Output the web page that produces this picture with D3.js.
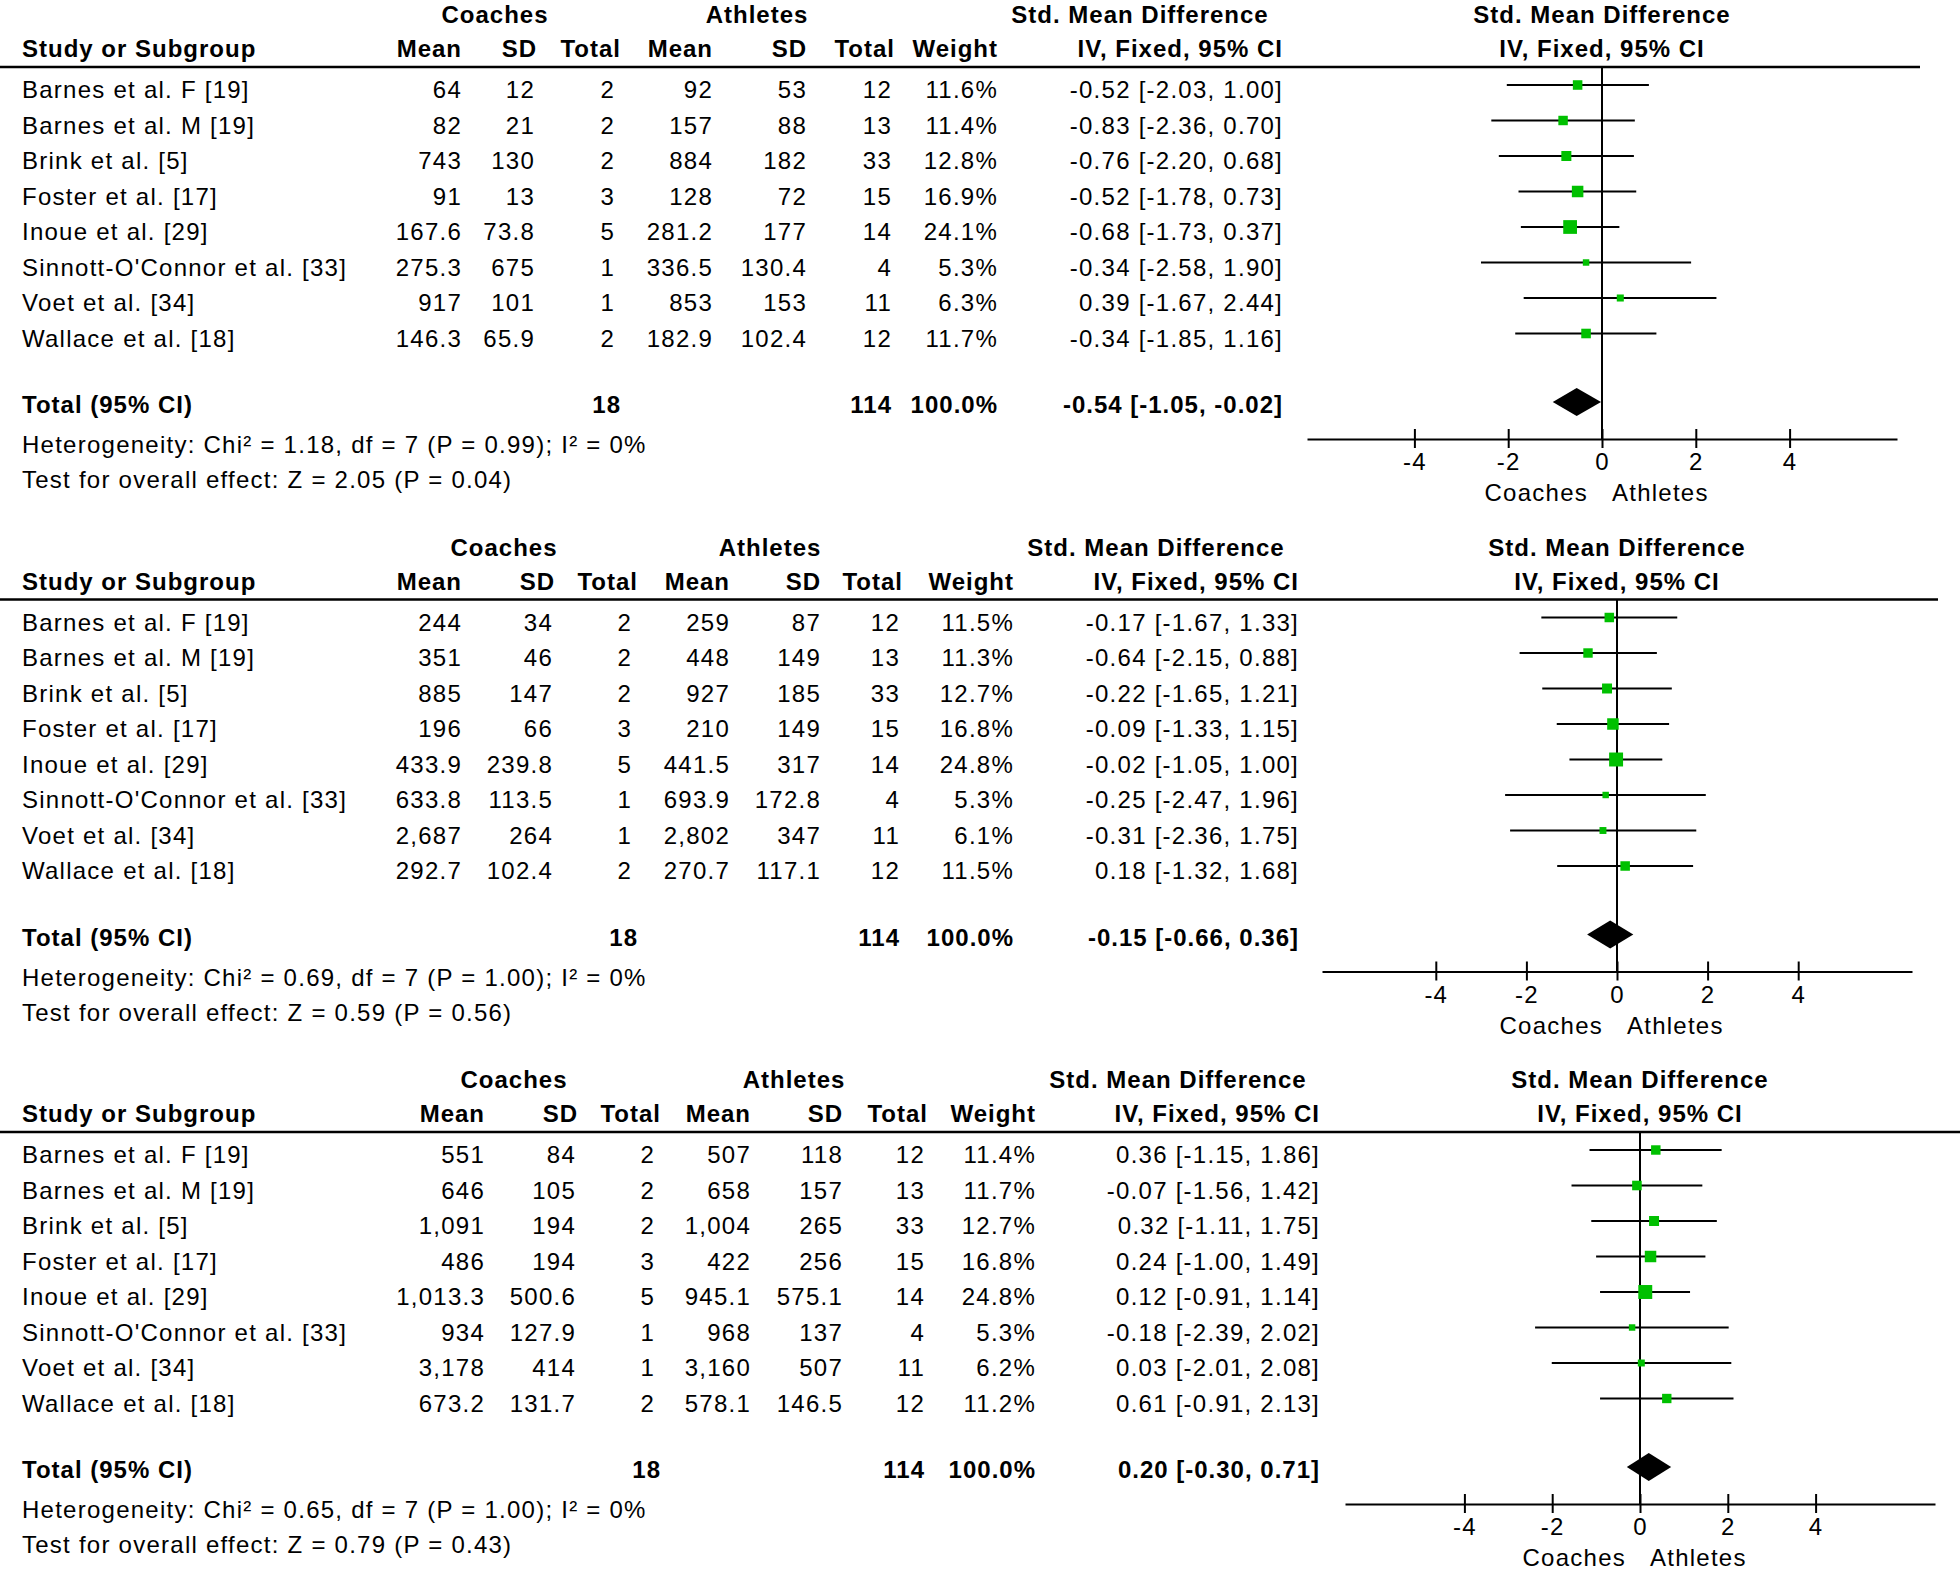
<!DOCTYPE html>
<html>
<head>
<meta charset="utf-8">
<script src="https://cdn.jsdelivr.net/npm/d3@7"></script>
<style>
  body { margin: 0; background: #fff; }
  svg { display: block; }
  text { font-family: "Liberation Sans", Arial, sans-serif; font-size: 24px; letter-spacing: 1.25px; fill: #000; }
  .b { font-weight: bold; letter-spacing: 1px; }
</style>
</head>
<body>
<script>
const studies = ["Barnes et al. F [19]", "Barnes et al. M [19]", "Brink et al. [5]", "Foster et al. [17]",
                 "Inoue et al. [29]", "Sinnott-O'Connor et al. [33]", "Voet et al. [34]", "Wallace et al. [18]"];
const coachN = [2, 2, 2, 3, 5, 1, 1, 2];
const athleteN = [12, 13, 33, 15, 14, 4, 11, 12];

// panel 1
const coachMean1 = ["64", "82", "743", "91", "167.6", "275.3", "917", "146.3"];
const coachSD1 = ["12", "21", "130", "13", "73.8", "675", "101", "65.9"];
const athMean1 = ["92", "157", "884", "128", "281.2", "336.5", "853", "182.9"];
const athSD1 = ["53", "88", "182", "72", "177", "130.4", "153", "102.4"];
const weight1 = [11.6, 11.4, 12.8, 16.9, 24.1, 5.3, 6.3, 11.7];
const smd1 = [-0.52, -0.83, -0.76, -0.52, -0.68, -0.34, 0.39, -0.34];
const lo1 = [-2.03, -2.36, -2.20, -1.78, -1.73, -2.58, -1.67, -1.85];
const hi1 = [1.00, 0.70, 0.68, 0.73, 0.37, 1.90, 2.44, 1.16];
const total1 = [-0.54, -1.05, -0.02];

// panel 2
const coachMean2 = ["244", "351", "885", "196", "433.9", "633.8", "2,687", "292.7"];
const coachSD2 = ["34", "46", "147", "66", "239.8", "113.5", "264", "102.4"];
const athMean2 = ["259", "448", "927", "210", "441.5", "693.9", "2,802", "270.7"];
const athSD2 = ["87", "149", "185", "149", "317", "172.8", "347", "117.1"];
const weight2 = [11.5, 11.3, 12.7, 16.8, 24.8, 5.3, 6.1, 11.5];
const smd2 = [-0.17, -0.64, -0.22, -0.09, -0.02, -0.25, -0.31, 0.18];
const lo2 = [-1.67, -2.15, -1.65, -1.33, -1.05, -2.47, -2.36, -1.32];
const hi2 = [1.33, 0.88, 1.21, 1.15, 1.00, 1.96, 1.75, 1.68];
const total2 = [-0.15, -0.66, 0.36];

// panel 3
const coachMean3 = ["551", "646", "1,091", "486", "1,013.3", "934", "3,178", "673.2"];
const coachSD3 = ["84", "105", "194", "194", "500.6", "127.9", "414", "131.7"];
const athMean3 = ["507", "658", "1,004", "422", "945.1", "968", "3,160", "578.1"];
const athSD3 = ["118", "157", "265", "256", "575.1", "137", "507", "146.5"];
const weight3 = [11.4, 11.7, 12.7, 16.8, 24.8, 5.3, 6.2, 11.2];
const smd3 = [0.36, -0.07, 0.32, 0.24, 0.12, -0.18, 0.03, 0.61];
const lo3 = [-1.15, -1.56, -1.11, -1.00, -0.91, -2.39, -2.01, -0.91];
const hi3 = [1.86, 1.42, 1.75, 1.49, 1.14, 2.02, 2.08, 2.13];
const total3 = [0.20, -0.30, 0.71];

const hetText = ["Heterogeneity: Chi\u00b2 = 1.18, df = 7 (P = 0.99); I\u00b2 = 0%",
                 "Heterogeneity: Chi\u00b2 = 0.69, df = 7 (P = 1.00); I\u00b2 = 0%",
                 "Heterogeneity: Chi\u00b2 = 0.65, df = 7 (P = 1.00); I\u00b2 = 0%"];
const testText = ["Test for overall effect: Z = 2.05 (P = 0.04)",
                  "Test for overall effect: Z = 0.59 (P = 0.56)",
                  "Test for overall effect: Z = 0.79 (P = 0.43)"];
const tickValues = [-4, -2, 0, 2, 4];

const panels = [
  {coachMean: coachMean1, coachSD: coachSD1, athMean: athMean1, athSD: athSD1, weight: weight1, smd: smd1, lo: lo1, hi: hi1, total: total1},
  {coachMean: coachMean2, coachSD: coachSD2, athMean: athMean2, athSD: athSD2, weight: weight2, smd: smd2, lo: lo2, hi: hi2, total: total2},
  {coachMean: coachMean3, coachSD: coachSD3, athMean: athMean3, athSD: athSD3, weight: weight3, smd: smd3, lo: lo3, hi: hi3, total: total3}
];

// column positions for each panel (right edges unless noted)
const layout = [
  {top: 0,     cMean: 462, cSD: 537, cTot: 621, aMean: 713, aSD: 807, aTot: 895, wt: 998,  ci: 1283, cMid: 495, aMid: 757, smdMid: 1140, zero: 1602, unit: 46.9, ruleEnd: 1920},
  {top: 532.5, cMean: 462, cSD: 555, cTot: 638, aMean: 730, aSD: 821, aTot: 903, wt: 1014, ci: 1299, cMid: 504, aMid: 770, smdMid: 1156, zero: 1617, unit: 45.3, ruleEnd: 1938},
  {top: 1065,  cMean: 485, cSD: 578, cTot: 661, aMean: 751, aSD: 843, aTot: 928, wt: 1036, ci: 1320, cMid: 514, aMid: 794, smdMid: 1178, zero: 1640, unit: 43.9, ruleEnd: 1960}
];

const W = 1960, H = 1572;
const svg = d3.select("body").append("svg")
    .attr("width", W)
    .attr("height", H);

svg.append("rect").attr("width", W).attr("height", H).attr("fill", "#fff");

function txt(g, x, y, s, anchor, bold) {
  return g.append("text")
      .attr("x", x)
      .attr("y", y)
      .attr("text-anchor", anchor)
      .attr("class", bold ? "b" : null)
      .text(s);
}

const fmtCI = (e, l, h) => `${e.toFixed(2)} [${l.toFixed(2)}, ${h.toFixed(2)}]`;

layout.forEach((L, p) => {
  const d = panels[p];
  const g = svg.append("g").attr("transform", `translate(0,${L.top})`);

  const y = d3.scaleLinear()
      .domain([0, studies.length - 1])
      .range([98, 98 + 35.5 * (studies.length - 1)]);

  const x = d3.scaleLinear()
      .domain([-4, 4])
      .range([L.zero - 4 * L.unit, L.zero + 4 * L.unit]);
  // axis line runs a fixed length either side of zero
  x.domain([x.invert(L.zero - 295), x.invert(L.zero + 295)]).range([L.zero - 295, L.zero + 295]);

  // headers
  txt(g, L.cMid, 23, "Coaches", "middle", true);
  txt(g, L.aMid, 23, "Athletes", "middle", true);
  txt(g, L.smdMid, 23, "Std. Mean Difference", "middle", true);
  txt(g, L.zero, 23, "Std. Mean Difference", "middle", true);

  txt(g, 22, 57, "Study or Subgroup", "start", true);
  txt(g, L.cMean, 57, "Mean", "end", true);
  txt(g, L.cSD, 57, "SD", "end", true);
  txt(g, L.cTot, 57, "Total", "end", true);
  txt(g, L.aMean, 57, "Mean", "end", true);
  txt(g, L.aSD, 57, "SD", "end", true);
  txt(g, L.aTot, 57, "Total", "end", true);
  txt(g, L.wt, 57, "Weight", "end", true);
  txt(g, L.ci, 57, "IV, Fixed, 95% CI", "end", true);
  txt(g, L.zero, 57, "IV, Fixed, 95% CI", "middle", true);

  g.append("line")
      .attr("x1", 0).attr("x2", L.ruleEnd)
      .attr("y1", 67).attr("y2", 67)
      .attr("stroke", "#000").attr("stroke-width", 2.5);

  // table columns
  const cols = [
    {vals: studies, x: 22, anchor: "start"},
    {vals: d.coachMean, x: L.cMean},
    {vals: d.coachSD, x: L.cSD - 2},
    {vals: coachN, x: L.cTot - 6},
    {vals: d.athMean, x: L.aMean},
    {vals: d.athSD, x: L.aSD},
    {vals: athleteN, x: L.aTot - 3},
    {vals: d.weight.map(w => w.toFixed(1) + "%"), x: L.wt},
    {vals: d.smd.map((e, i) => fmtCI(e, d.lo[i], d.hi[i])), x: L.ci}
  ];
  cols.forEach(c => {
    g.append("g").selectAll("text")
      .data(c.vals)
      .join("text")
        .attr("x", c.x)
        .attr("y", (v, i) => y(i))
        .attr("text-anchor", c.anchor || "end")
        .text(v => v);
  });

  // totals
  txt(g, 22, 413, "Total (95% CI)", "start", true);
  txt(g, L.cTot, 413, d3.sum(coachN), "end", true);
  txt(g, L.aTot - 3, 413, d3.sum(athleteN), "end", true);
  txt(g, L.wt, 413, "100.0%", "end", true);
  txt(g, L.ci, 413, fmtCI(d.total[0], d.total[1], d.total[2]), "end", true);
  txt(g, 22, 453, hetText[p], "start", false);
  txt(g, 22, 488, testText[p], "start", false);

  // forest plot
  g.append("line")
      .attr("x1", x(0)).attr("x2", x(0))
      .attr("y1", 67).attr("y2", 439)
      .attr("stroke", "#000").attr("stroke-width", 2);

  const rows = g.append("g").selectAll("g")
    .data(d.smd.map((e, i) => ({e, lo: d.lo[i], hi: d.hi[i], w: d.weight[i], i})))
    .join("g");

  rows.append("line")
      .attr("x1", r => x(r.lo)).attr("x2", r => x(r.hi))
      .attr("y1", r => y(r.i) - 13).attr("y2", r => y(r.i) - 13)
      .attr("stroke", "#000").attr("stroke-width", 2);

  const half = w => 1.4 * Math.sqrt(w);
  rows.append("rect")
      .attr("x", r => x(r.e) - half(r.w))
      .attr("y", r => y(r.i) - 13 - half(r.w))
      .attr("width", r => 2 * half(r.w))
      .attr("height", r => 2 * half(r.w))
      .attr("fill", "#00c000");

  const cy = 402;
  g.append("path")
      .attr("d", `M${x(d.total[1])},${cy}L${x(d.total[0])},${cy - 14}L${x(d.total[2])},${cy}L${x(d.total[0])},${cy + 14}Z`)
      .attr("fill", "#000");

  const axis = g.append("g")
      .attr("transform", "translate(0,439)")
      .call(d3.axisBottom(x).tickValues(tickValues).tickFormat(v => String(v)).tickSizeOuter(0));
  axis.select(".domain").attr("stroke", "#000").attr("stroke-width", 2);
  axis.selectAll(".tick line").attr("y1", -10).attr("y2", 9).attr("stroke", "#000").attr("stroke-width", 2);
  axis.selectAll(".tick text")
      .attr("y", 31).attr("dy", 0)
      .attr("font-family", null).attr("font-size", null)
      .style("font-size", "24px");

  txt(g, x(0) - 14, 501, "Coaches", "end", false);
  txt(g, x(0) + 10, 501, "Athletes", "start", false);
});
</script>
</body>
</html>
